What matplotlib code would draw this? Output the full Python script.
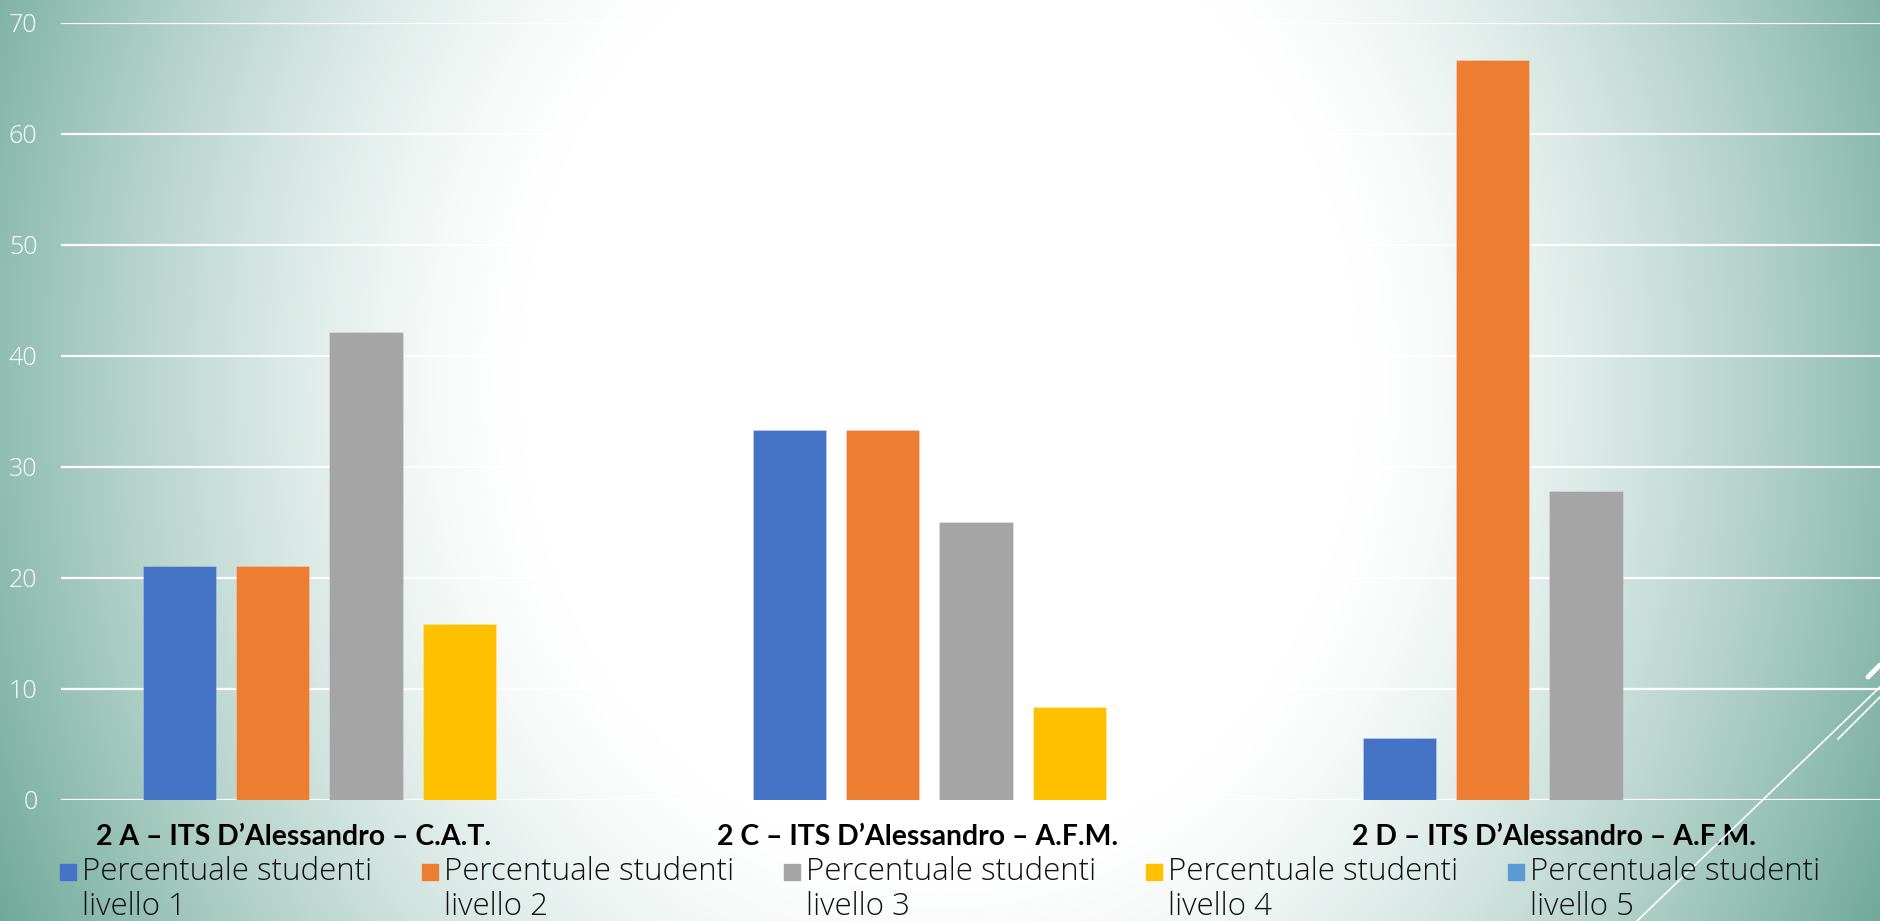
import numpy as np
import matplotlib
matplotlib.use('Agg')
import matplotlib.pyplot as plt
import matplotlib.transforms as mtrans
from matplotlib.lines import Line2D
from matplotlib.patches import Rectangle

plt.rcParams['font.family'] = ['Open Sans', 'DejaVu Sans']

# dati
classi = ['2 A – ITS D’Alessandro – C.A.T.',
          '2 C – ITS D’Alessandro – A.F.M.',
          '2 D – ITS D’Alessandro – A.F.M.']
serie = ['Percentuale studenti livello 1', 'Percentuale studenti livello 2',
         'Percentuale studenti livello 3', 'Percentuale studenti livello 4',
         'Percentuale studenti livello 5']
livello1 = [21.05, 33.33, 5.56]
livello2 = [21.05, 33.33, 66.67]
livello3 = [42.11, 25.0, 27.78]
livello4 = [15.79, 8.33, 0]
livello5 = [0, 0, 0]
valori = [livello1, livello2, livello3, livello4, livello5]
colori = ['#4472C4', '#ED7D31', '#A5A5A5', '#FFC000', '#5B9BD5']

W, H = 1880, 921
fig = plt.figure(figsize=(W / 100, H / 100), dpi=100)

# sfondo sfumato (bianco al centro, verde acqua ai bordi)
yy, xx = np.mgrid[0:H, 0:W]
d = np.sqrt(((xx - 940) / 1000.0) ** 2 + ((yy - 380) / 1150.0) ** 2)
t = np.clip((d - 0.42) / 0.64, 0, 1) ** 1.4
teal = np.array([0x6C, 0xA7, 0x98]) / 255.0
img = (1 - t)[..., None] * np.ones(3) + t[..., None] * teal
bg = fig.add_axes([0, 0, 1, 1], zorder=-1)
bg.imshow(img, aspect='auto', extent=[0, 1, 0, 1])
bg.axis('off')

ax = fig.add_axes([61 / W, (H - 799.7) / H, 1830 / W, 777 / H])
ax.patch.set_alpha(0)
x = np.arange(len(classi))
for k, vals in enumerate(valori):
    ax.bar(x + (k - 2) * 0.153, vals, width=0.12, color=colori[k], zorder=3,
           edgecolor=(1, 1, 1, 0.25), linewidth=0.6)

ax.set_xlim(-0.5, 2.5)
ax.set_ylim(0, 70)
ax.set_yticks(range(0, 71, 10))
ax.set_xticks([])
ax.set_axisbelow(True)
ax.yaxis.grid(True, color='white', linewidth=1.6)
ax.tick_params(axis='y', length=0, pad=17, labelcolor='white', labelsize=18)
for lab in ax.get_yticklabels():
    lab.set_fontweight('light')
for s in ax.spines.values():
    s.set_visible(False)

# etichette delle categorie
dx = [-72, -58, -32]
for i, c in enumerate(classi):
    tr = mtrans.blended_transform_factory(ax.transData, fig.transFigure)
    tr = tr + mtrans.ScaledTranslation(dx[i] / 100, 0, fig.dpi_scale_trans)
    ax.text(i, (H - 845) / H, c, transform=tr, ha='center', va='baseline',
            fontsize=20.4, fontweight='bold', color='#000000', clip_on=False,
            family=['Lato', 'DejaVu Sans'])

# legenda
for k, name in enumerate(serie):
    x0 = 60 + 362 * k
    parts = name.rsplit(' ', 2)
    fig.patches.append(Rectangle((x0 / W, (H - 880) / H), 16 / W, 16 / H,
                                 transform=fig.transFigure, color=colori[k]))
    fig.text((x0 + 22) / W, (H - 880) / H, parts[0], ha='left', va='baseline',
             fontsize=22.5, fontweight='light', color='#111111')
    fig.text((x0 + 22) / W, (H - 915) / H, ' '.join(parts[1:]), ha='left',
             va='baseline', fontsize=22.5, fontweight='light', color='#111111')

# linee decorative
fig.add_artist(Line2D([1637 / W, 1.0], [0, 234 / H], transform=fig.transFigure,
                      color='white', linewidth=1.2))
fig.add_artist(Line2D([1838 / W, 1.0], [(H - 739) / H, (H - 697) / H],
                      transform=fig.transFigure, color='white', linewidth=1.2))
fig.add_artist(Line2D([1868 / W, 1.0], [(H - 677) / H, (H - 665) / H],
                      transform=fig.transFigure, color='white', linewidth=3.5,
                      solid_capstyle='round'))

fig.savefig('out.png', dpi=100)
